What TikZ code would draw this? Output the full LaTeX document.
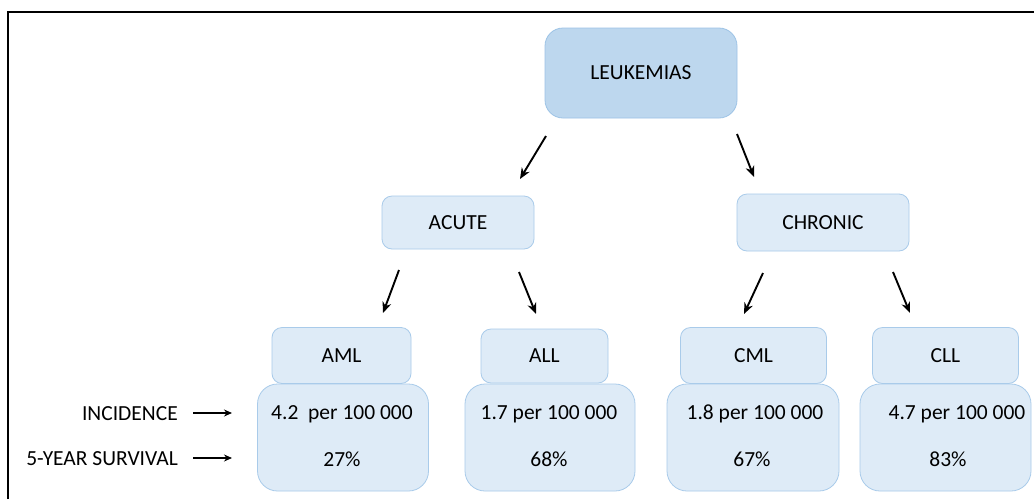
\documentclass[tikz,border=0pt]{standalone}
\usepackage{fontspec}
\setmainfont{Carlito}
\usetikzlibrary{arrows.meta}
\definecolor{topfill}{HTML}{BDD7EE}
\definecolor{topline}{HTML}{9DC3E6}
\definecolor{boxfill}{HTML}{DEEBF7}
\definecolor{boxline}{HTML}{A9CBEA}
\tikzset{
  txt/.style={font=\fontsize{21.5}{25}\selectfont, inner sep=0pt},
  box/.style={draw=boxline, fill=boxfill, line width=0.8pt, rounded corners=10pt, inner sep=0pt, txt},
  topbox/.style={box, draw=topline, fill=topfill, rounded corners=18pt},
  databox/.style={box, rounded corners=20pt},
  arr/.style={line width=1.9pt, -{Stealth[length=11pt,width=9pt]}},
  sarr/.style={line width=1.5pt, -{Stealth[length=8pt,width=7pt]}}
}
\begin{document}
\begin{tikzpicture}[x=1pt,y=-1pt]
\useasboundingbox (0,0) rectangle (1034,499);
\fill[white] (0,0) rectangle (1034,499);
% frame
\draw[line width=2pt] (8,499) -- (8,12) -- (1034,12);

% boxes
\node[topbox, minimum width=192pt, minimum height=90pt] (leuk) at (641,73) {LEUKEMIAS};
\node[box, minimum width=152pt, minimum height=53pt] (acute) at (458,222.5) {ACUTE};
\node[box, minimum width=172pt, minimum height=57pt] (chronic) at (823,222.5) {CHRONIC};

\node[box, minimum width=139pt, minimum height=56pt] (aml) at (341.5,355.5) {AML};
\node[box, minimum width=127pt, minimum height=54pt] (all) at (544.5,356) {ALL};
\node[box, minimum width=146pt, minimum height=56pt] (cml) at (753.5,355.5) {CML};
\node[box, minimum width=146pt, minimum height=56pt] (cll) at (945.5,355.5) {CLL};

\node[databox, minimum width=171pt, minimum height=107pt] (amld) at (343,437.5) {};
\node[databox, minimum width=170pt, minimum height=107pt] (alld) at (550,437.5) {};
\node[databox, minimum width=172pt, minimum height=107pt] (cmld) at (753,437.5) {};
\node[databox, minimum width=171pt, minimum height=107pt] (clld) at (945.5,437.5) {};

% data text
\node[txt] (amli) at (342,414) {4.2\ \ per 100 000};
\node[txt] (amls) at (342,459) {27\%};
\node[txt] (alli) at (549,414) {1.7 per 100 000};
\node[txt] (alls) at (549,459) {68\%};
\node[txt] (cmli) at (755,414) {1.8 per 100 000};
\node[txt] (cmls) at (752,459) {67\%};
\node[txt] (clli) at (957,414) {4.7 per 100 000};
\node[txt] (clls) at (948,459) {83\%};

% row labels
\node[txt, anchor=east] (inc) at (178,414) {INCIDENCE};
\node[txt, anchor=east] (surv) at (178,459) {5-YEAR SURVIVAL};
\coordinate (incA) at (193,413); \coordinate (incB) at (232,413);
\coordinate (survA) at (193,458); \coordinate (survB) at (232,458);
\draw[sarr] (incA) -- (incB);
\draw[sarr] (survA) -- (survB);

% tree arrows
\coordinate (a1s) at (546,136); \coordinate (a1e) at (520,179);
\coordinate (a2s) at (737,134); \coordinate (a2e) at (754,177);
\coordinate (a3s) at (399,270); \coordinate (a3e) at (383,313);
\coordinate (a4s) at (519,272); \coordinate (a4e) at (536,314);
\coordinate (a5s) at (763,273); \coordinate (a5e) at (744,314);
\coordinate (a6s) at (893,272); \coordinate (a6e) at (910,313);
\draw[arr] (a1s) -- (a1e);
\draw[arr] (a2s) -- (a2e);
\draw[arr] (a3s) -- (a3e);
\draw[arr] (a4s) -- (a4e);
\draw[arr] (a5s) -- (a5e);
\draw[arr] (a6s) -- (a6e);
\end{tikzpicture}
\end{document}
